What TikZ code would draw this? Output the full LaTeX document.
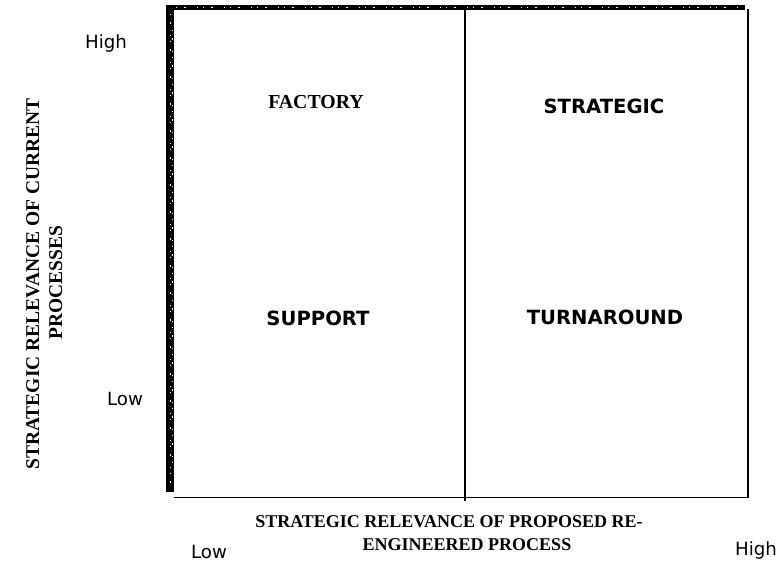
\documentclass[tikz,border=0pt]{standalone}
\usepackage{fontspec}
\setmainfont{Liberation Serif}
\newfontfamily\labelsans{DejaVu Sans}
\begin{document}
\begin{tikzpicture}[x=1pt,y=-1pt,
  axistitle/.style={font=\fontsize{18}{23}\selectfont\bfseries, inner sep=0pt},
  sidetitle/.style={font=\fontsize{19.5}{23}\selectfont\bfseries, inner sep=0pt},
  scaletext/.style={font=\labelsans\fontsize{18.2}{21}\selectfont, inner sep=0pt},
  quadsans/.style={font=\labelsans\fontsize{19.6}{23}\selectfont\bfseries, inner sep=0pt},
  quadserif/.style={font=\fontsize{19.8}{23}\selectfont\bfseries, inner sep=0pt},
  frame/.style={line width=1.4pt, black},
  grain/.style={white, line width=0.8pt, dash pattern=on 1pt off 7pt on 2pt off 11pt on 1pt off 5pt}]
\useasboundingbox (0,0) rectangle (780,562);
\fill[white] (0,0) rectangle (780,562);

% matrix frame: heavy left and top edges, thin right and bottom edges
\fill[black] (166,5) rectangle (174,492);
\fill[black] (166,5) rectangle (745,10);
\draw[grain] (170,14) -- (170,488);
\draw[grain] (172,30) -- (172,470);
\draw[grain] (176,7.5) -- (742,7.5);
\draw[frame] (748,9) -- (748,497.5) -- (174,497.5);
\draw[line width=1.2pt] (465,10) -- (465,501);

% quadrant names
\node[quadserif, anchor=base] (factory) at (316,108) {FACTORY};
\node[quadsans, anchor=base] (strategic) at (604,113) {STRATEGIC};
\node[quadsans, anchor=base] (support) at (318,325) {SUPPORT};
\node[quadsans, anchor=base] (turnaround) at (605,324) {TURNAROUND};

% scale ends
\node[scaletext, anchor=base] (yhigh) at (106,48) {High};
\node[scaletext, anchor=base] (ylow) at (125,405) {Low};
\node[scaletext, anchor=base] (xlow) at (209,558) {Low};
\node[scaletext, anchor=base] (xhigh) at (756,555) {High};

% axis titles
\node[axistitle, anchor=base] (xtitle1) at (449,527) {STRATEGIC RELEVANCE OF PROPOSED RE-};
\node[axistitle, anchor=base] (xtitle2) at (467,550) {ENGINEERED PROCESS};
\node[sidetitle, anchor=base, rotate=90] (ytitle1) at (39,284) {STRATEGIC RELEVANCE OF CURRENT};
\node[sidetitle, anchor=base, rotate=90] (ytitle2) at (62,283) {PROCESSES};
\end{tikzpicture}
\end{document}
